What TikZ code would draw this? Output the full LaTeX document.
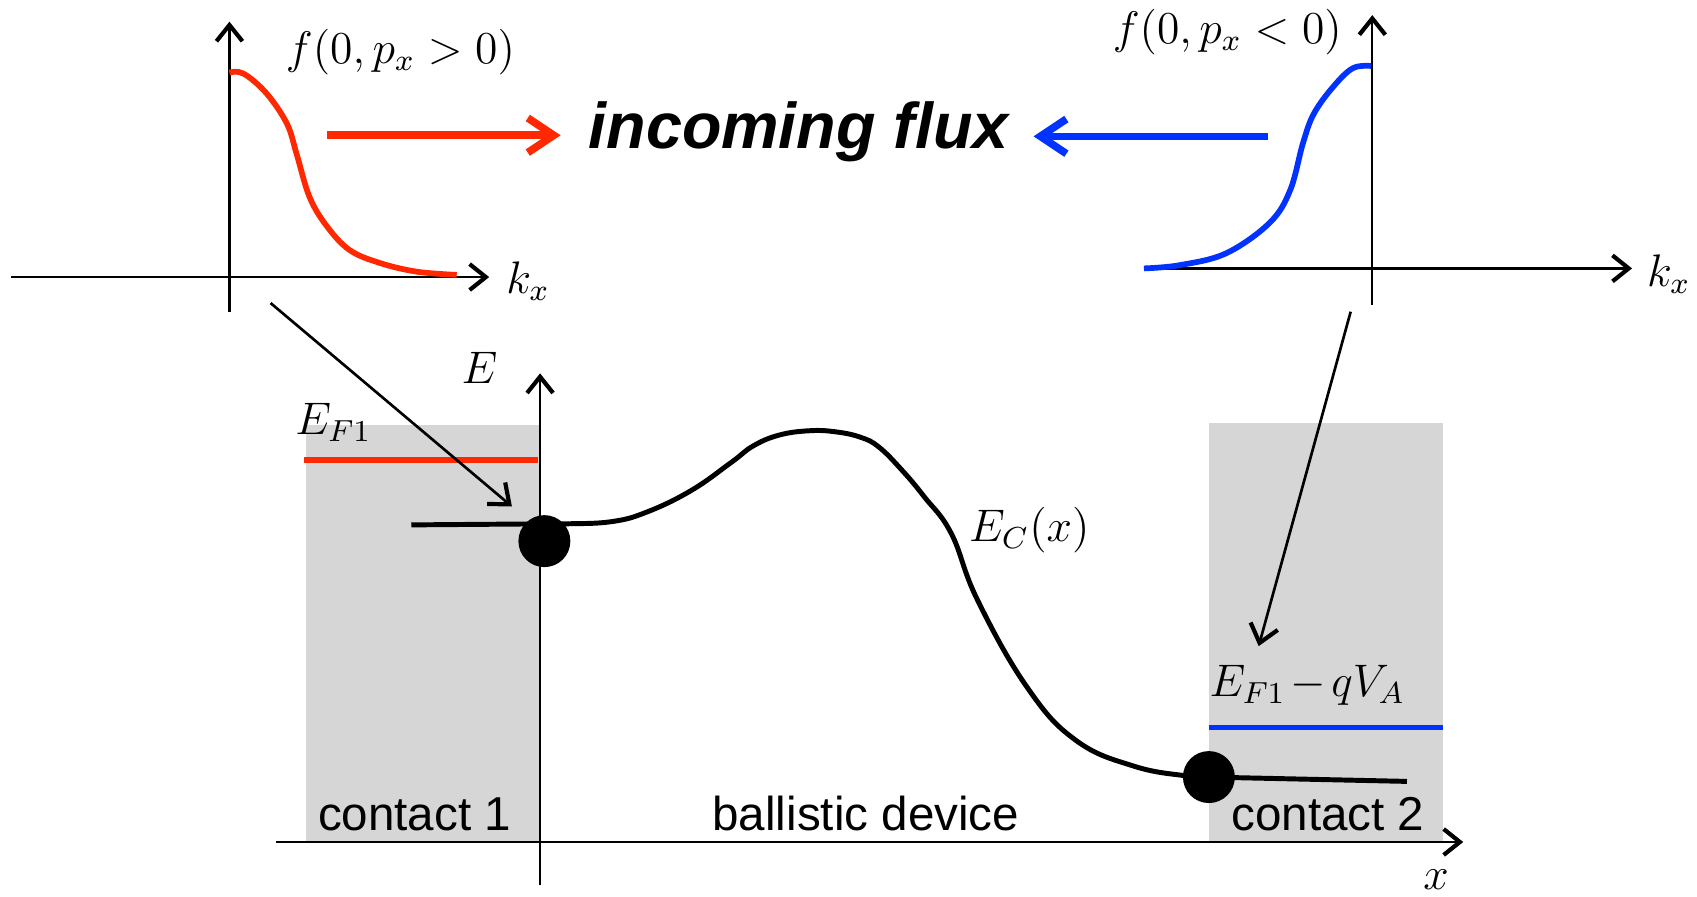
\documentclass[tikz,border=0pt]{standalone}
\usepackage{fontspec}
\newfontfamily\arialfont{Liberation Sans}
\usetikzlibrary{arrows.meta}
\definecolor{fluxred}{RGB}{255,40,0}
\definecolor{fluxblue}{RGB}{0,51,255}
\definecolor{contactgray}{RGB}{214,214,214}
\tikzset{
  axis/.style={line width=0.6pt,-{Straight Barb[length=1.5mm,width=2.4mm,line width=1.1pt]}},
  pointer/.style={line width=0.7pt,-{Straight Barb[length=1.6mm,width=2.6mm,line width=1.1pt]}},
  flux/.style={line width=2pt,-{Straight Barb[length=2.4mm,width=3.2mm]}},
  band/.style={line width=1.3pt},
  dist/.style={line width=1.5pt},
  level/.style={line width=1.4pt},
  dot/.style={circle,fill,inner sep=0pt,minimum size=4.8mm},
  lbl/.style={font=\fontsize{12}{14}\selectfont,inner sep=0pt},
  sans/.style={font=\arialfont\fontsize{12.5}{15}\selectfont,inner sep=0pt,anchor=base},
}
\begin{document}
\begin{tikzpicture}[x=0.1mm,y=-0.1mm]
\useasboundingbox (0,0) rectangle (1568,828);
\fill[contactgray] (283,393) rectangle (499,778);
\fill[contactgray] (1117,391) rectangle (1333,778);

\coordinate (kL0) at (10,256);
\coordinate (kL1) at (452,256);
\coordinate (fL0) at (212,288);
\coordinate (fL1) at (212,20);
\coordinate (kR0) at (1062,248);
\coordinate (kR1) at (1508,248);
\coordinate (fR0) at (1268,282);
\coordinate (fR1) at (1268,14);
\draw[axis] (kL0) -- (kL1);
\draw[axis] (fL0) -- (fL1);
\draw[axis] (kR0) -- (kR1);
\draw[axis] (fR0) -- (fR1);
\node[lbl] (kxL) at (488,260) {$k_x$};
\node[lbl] (kxR) at (1542,253) {$k_x$};
\node[lbl] (fL) at (370,48) {$f(0,p_x>0)$};
\node[lbl] (fR) at (1134,30) {$f(0,p_x<0)$};

\draw[dist,fluxred] plot[smooth,tension=0.6] coordinates {(212,67) (225,68) (246,86) (265,114) (274,142) (286,182) (302,209) (323,231) (351,243) (385,251) (422,254)};
\draw[dist,fluxblue] plot[smooth,tension=0.6] coordinates {(1057,248) (1090,245) (1133,234) (1173,206) (1192,176) (1204,132) (1214,105) (1232,80) (1250,63) (1267,61)};

\coordinate (rA) at (302,125);
\coordinate (rB) at (518,125);
\coordinate (bA) at (1172,126);
\coordinate (bB) at (955,126);
\draw[flux,fluxred] (rA) -- (rB);
\draw[flux,fluxblue] (bA) -- (bB);
\node[font=\arialfont\bfseries\itshape\fontsize{17}{20}\selectfont,inner sep=0pt] (flux) at (738,122) {incoming flux};

\coordinate (E0) at (499,818);
\coordinate (E1) at (499,345);
\coordinate (x0) at (255,778);
\coordinate (x1) at (1352,778);
\draw[axis] (E0) -- (E1);
\draw[axis] (x0) -- (x1);
\node[lbl] (Elbl) at (443,340) {$E$};
\node[lbl] (xlbl) at (1327,813) {$x$};

\draw[level,fluxred] (281,425) -- (497,425);
\draw[level,fluxblue] (1117,672) -- (1333,672);
\node[lbl] (EF1) at (308,390) {$E_{F1}$};
\node[lbl] (EF2) at (1208,633) {$E_{F1}\mkern-2mu-\mkern-2mu qV_A$};

\draw[band] (380,485) -- (505,484);
\draw[band] plot[smooth,tension=0.7] coordinates {(505,484) (524,484) (565,482) (598,473) (639,453) (676,427) (696,412) (720,402) (748,398) (772,399) (795,404) (812,413) (833,434) (854,459) (879,493) (903,554) (949,635) (994,684) (1048,708) (1097,717) (1117,718)};
\draw[band] (1117,718) -- (1300,722);
\node[dot] (dotL) at (503,500) {};
\node[dot] (dotR) at (1117,718) {};
\node[lbl] (EC) at (951,490) {$E_C(x)$};

\coordinate (pL) at (250,280);
\coordinate (pLend) at (473,468);
\coordinate (pR) at (1248,288);
\coordinate (pRend) at (1163,597);
\draw[pointer] (pL) -- (pLend);
\draw[pointer] (pR) -- (pRend);

\node[sans] (c1) at (383,767) {contact 1};
\node[sans] (dev) at (800,767) {ballistic device};
\node[sans] (c2) at (1227,767) {contact 2};
\end{tikzpicture}
\end{document}
